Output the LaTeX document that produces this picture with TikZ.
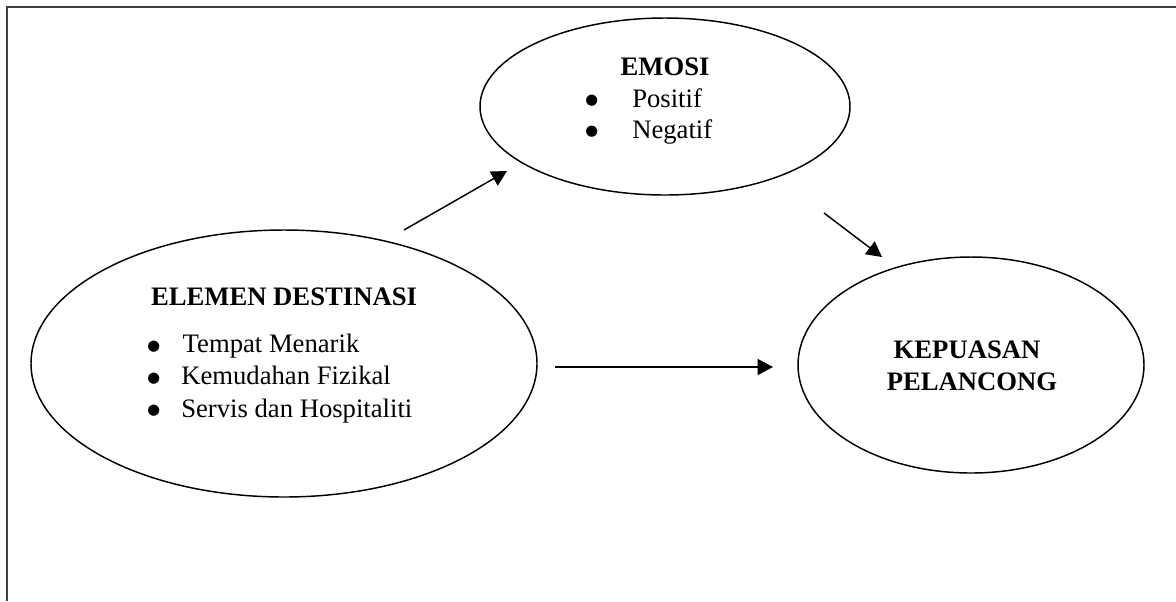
\documentclass[tikz,border=0pt]{standalone}
\usepackage{fontspec}
\setmainfont{Liberation Serif}
\newfontfamily\symfont{DejaVu Sans}
\usetikzlibrary{shapes.geometric,arrows.meta}
\newcommand{\bulmark}[1]{\makebox[#1][l]{\raisebox{1.6pt}{\symfont\fontsize{11}{12}\selectfont ●}}}
\begin{document}
\begin{tikzpicture}[x=0.75pt,y=-0.75pt,
  oval/.style={draw,ellipse,line width=1.1pt,inner sep=0pt},
  conn/.style={line width=1.1pt,-{Triangle[length=11.5pt,width=12pt]}},
  frameline/.style={line width=1.4pt,draw=black!75},
  lbl/.style={font=\fontsize{20}{24}\selectfont,inner sep=0pt,anchor=base west},
  hd/.style={font=\fontsize{20}{24}\selectfont\bfseries,inner sep=0pt,anchor=base},
]
\useasboundingbox (0,0) rectangle (1176,601);
\coordinate (fTL) at (7,7);
\coordinate (fTR) at (1176,7);
\coordinate (fBL) at (7,601);
\draw[frameline] (fTR) -- (fTL) -- (fBL);

\node[oval,minimum width=277.5pt,minimum height=132.75pt] (emosi) at (665,106.5) {};
\node[oval,minimum width=379.5pt,minimum height=200.25pt] (elemen) at (284,363.5) {};
\node[oval,minimum width=259.5pt,minimum height=162pt] (kepuasan) at (971,365) {};

\node[hd] (emT) at (665,75) {EMOSI};
\node[lbl] (emL1) at (585,107) {\bulmark{35.25pt}Positif};
\node[lbl] (emL2) at (585,138) {\bulmark{35.25pt}Negatif};

\node[hd] (elT) at (284,305) {ELEMEN DESTINASI};
\node[lbl] (elL1) at (147,352.5) {\bulmark{26.6pt}Tempat Menarik};
\node[lbl] (elL2) at (147,384.5) {\bulmark{25.5pt}Kemudahan Fizikal};
\node[lbl] (elL3) at (147,417) {\bulmark{25.5pt}Servis dan Hospitaliti};

\node[hd] (kpT1) at (967,358) {KEPUASAN};
\node[hd] (kpT2) at (972,390) {PELANCONG};

\coordinate (a1s) at (404,230);
\coordinate (a1e) at (507,171);
\coordinate (a2s) at (824,213);
\coordinate (a2e) at (882,257);
\coordinate (a3s) at (555,367);
\coordinate (a3e) at (773,367);
\draw[conn] (a1s) -- (a1e);
\draw[conn] (a2s) -- (a2e);
\draw[conn] (a3s) -- (a3e);
\end{tikzpicture}
\end{document}
